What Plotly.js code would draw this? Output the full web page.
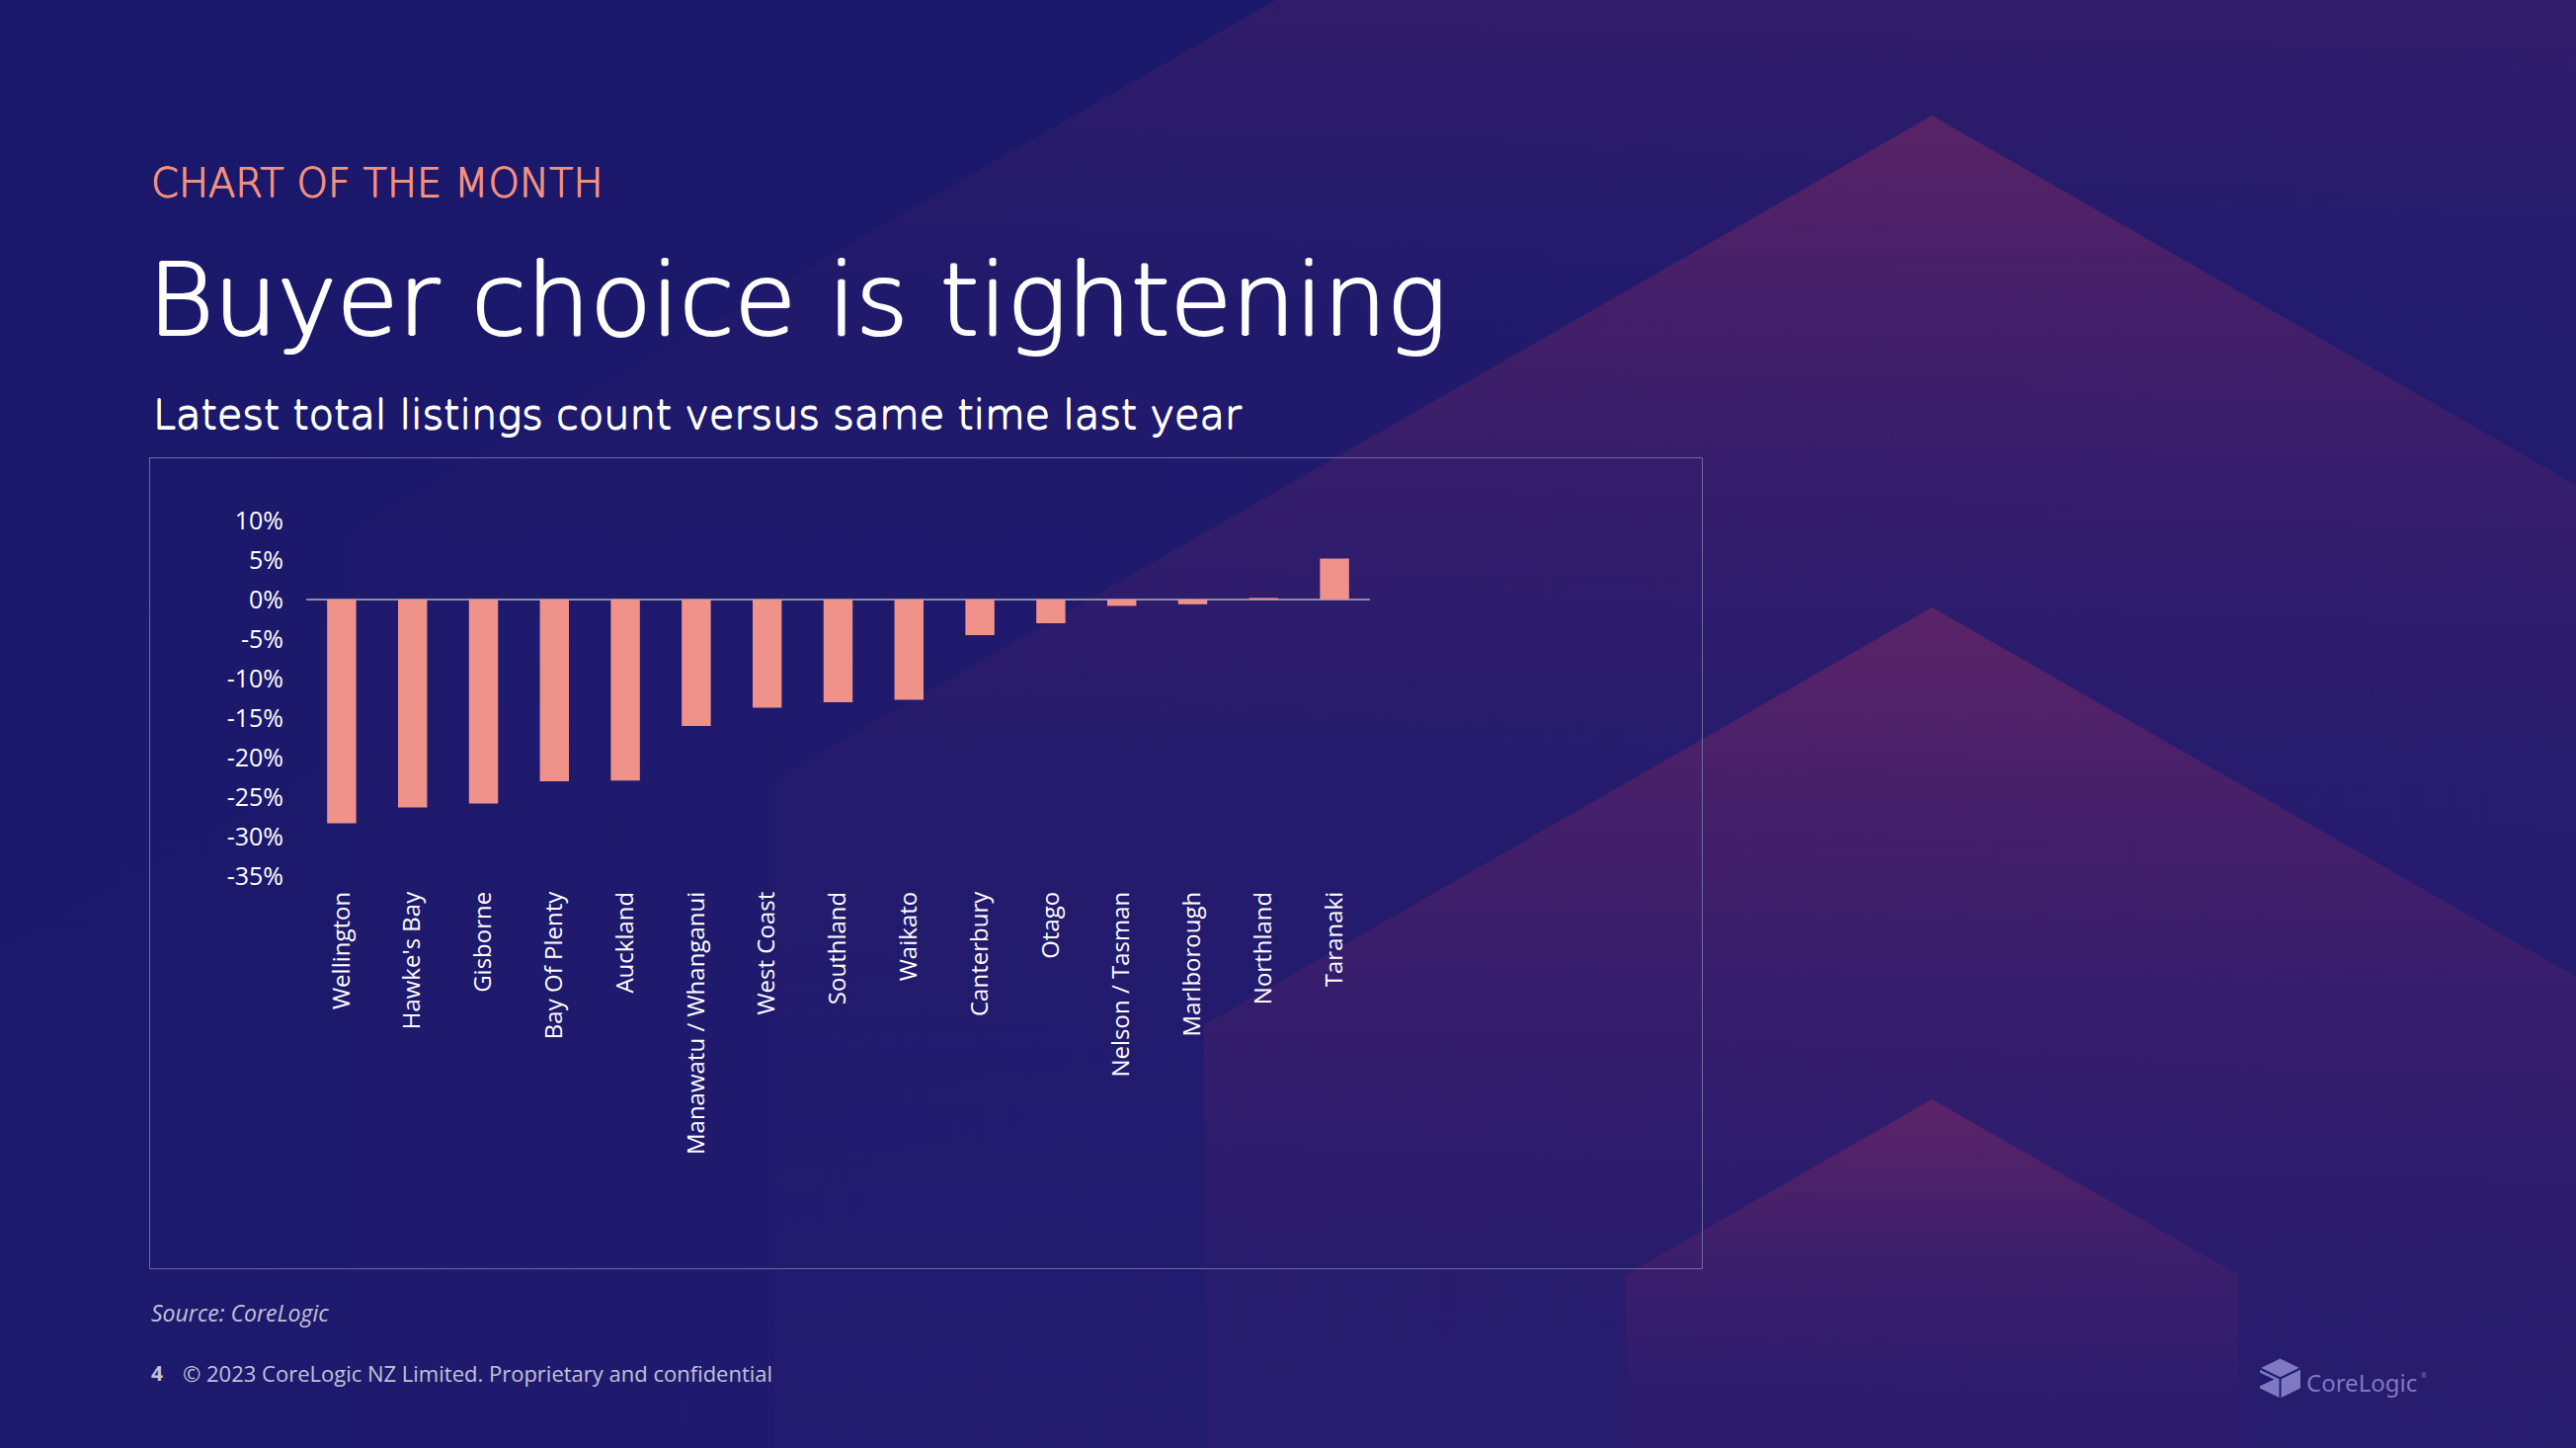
<!DOCTYPE html>
<html>
<head>
<meta charset="utf-8">
<script src="https://cdn.plot.ly/plotly-3.0.1.min.js"></script>
<style>
  html, body { margin: 0; padding: 0; width: 2608px; height: 1466px; overflow: hidden; background: #1c196c; }
  #bg { position: absolute; left: 0; top: 0; }
  #chart { position: absolute; left: 0; top: 0; width: 2608px; height: 1466px; }
</style>
</head>
<body>
<svg id="bg" width="2608" height="1466" xmlns="http://www.w3.org/2000/svg"></svg>
<div id="chart"></div>
<script>
// ---------------- data ----------------
const regions = ['Wellington', "Hawke's Bay", 'Gisborne', 'Bay Of Plenty', 'Auckland',
  'Manawatu / Whanganui', 'West Coast', 'Southland', 'Waikato', 'Canterbury', 'Otago',
  'Nelson / Tasman', 'Marlborough', 'Northland', 'Taranaki'];
const listingsChangePct = [-28.3, -26.3, -25.8, -23.0, -22.9, -16.0, -13.7, -13.0, -12.7,
  -4.5, -3.0, -0.8, -0.6, 0.2, 5.2];
const yTickVals = [10, 5, 0, -5, -10, -15, -20, -25, -30, -35];
const yTickText = ['10%', '5%', '0%', '-5%', '-10%', '-15%', '-20%', '-25%', '-30%', '-35%'];

const kicker = 'CHART OF THE MONTH';
const headline = 'Buyer choice is tightening';
const subhead = 'Latest total listings count versus same time last year';
const sourceNote = 'Source: CoreLogic';
const pageNo = '4';
const copyright = '\u00A9 2023 CoreLogic NZ Limited. Proprietary and confidential';
const brand = 'CoreLogic';

// ---------------- background decoration (svg) ----------------
const W = 2608, H = 1466;
(function drawBackground() {
  const svg = document.getElementById('bg');
  let defs = `<linearGradient id="base" x1="0" y1="0" x2="1" y2="1">
      <stop offset="0" stop-color="#1a186a"/>
      <stop offset="0.6" stop-color="#1e1a6e"/>
      <stop offset="1" stop-color="#211b6f"/>
    </linearGradient>`;
  let body = `<rect x="0" y="0" width="${W}" height="${H}" fill="url(#base)"/>`;
  const cx = 1956, slope = 0.5736;
  const peaks = [-381, 117, 615, 1113];
  const halfW = [1602, 1172, 737, 310];
  const fadeLen = [950, 950, 950, 420];
  peaks.forEach((p, k) => {
    const hw = halfW[k];
    defs += `<linearGradient id="h${k}" gradientUnits="userSpaceOnUse" x1="0" y1="${p}" x2="0" y2="${p + fadeLen[k]}">
        <stop offset="0" stop-color="#8c2a62" stop-opacity="0.48"/>
        <stop offset="0.2" stop-color="#8c2a62" stop-opacity="0.32"/>
        <stop offset="0.4" stop-color="#8c2a62" stop-opacity="0.18"/>
        <stop offset="0.7" stop-color="#8c2a62" stop-opacity="0.05"/>
        <stop offset="1" stop-color="#8c2a62" stop-opacity="0.02"/>
      </linearGradient>`;
    const yc = p + hw * slope;
    body += `<polygon points="${cx - hw},${yc} ${cx},${p} ${cx + hw},${yc} ${cx + hw},${H + 10} ${cx - hw},${H + 10}" fill="url(#h${k})"/>`;
  });
  // logo icon
  const lx = 2308.5, ly = 1395.5;
  body += `<g fill="#7e79c2">
      <polygon points="${lx},${ly - 20} ${lx + 20.5},${ly - 10} ${lx + 20.5},${ly + 10} ${lx},${ly + 20} ${lx - 20.5},${ly + 10} ${lx - 20.5},${ly - 10}"/>
    </g>
    <g stroke="#201b6e" stroke-width="2" fill="none">
      <line x1="${lx - 20.5}" y1="${ly - 10}" x2="${lx}" y2="${ly}"/>
      <line x1="${lx}" y1="${ly}" x2="${lx + 20.5}" y2="${ly - 10}"/>
      <line x1="${lx}" y1="${ly}" x2="${lx}" y2="${ly + 20}"/>
    </g>
    <polygon points="${lx - 21},${ly - 6} ${lx - 6},${ly + 1} ${lx - 21},${ly + 8}" fill="#201b6e"/>`;
  svg.innerHTML = `<defs>${defs}</defs>${body}`;
})();

// ---------------- plotly ----------------
const px = x => x / W;
const py = y => 1 - y / H;

const titleFont = '"DejaVu Sans", Inter, sans-serif';
const bodyFont = '"Open Sans", "Noto Sans", sans-serif';
const tickFont = '"Liberation Sans Narrow", "Open Sans", sans-serif';

// thicken the light glyphs slightly with a tight text-shadow ring
const ring = (d, c) => `${d}px 0 0 ${c}, -${d}px 0 0 ${c}, 0 ${d}px 0 ${c}, 0 -${d}px 0 ${c}`;

const trace = {
  type: 'bar',
  x: regions,
  y: listingsChangePct,
  marker: { color: '#ee928a', line: { width: 0 } },
  hoverinfo: 'skip'
};

const annotations = [
  { text: kicker, x: px(151), y: py(185), xanchor: 'left', yanchor: 'middle',
    font: { family: titleFont, size: 40, color: '#f0907f', weight: 300, shadow: ring(0.5, '#f0907f') } },
  { text: headline, x: px(148), y: py(304), xanchor: 'left', yanchor: 'middle',
    font: { family: titleFont, size: 101.5, color: '#ffffff', weight: 300, shadow: ring(1.2, '#ffffff') } },
  { text: subhead, x: px(153), y: py(419), xanchor: 'left', yanchor: 'middle',
    font: { family: titleFont, size: 41.5, color: '#ffffff', weight: 300, shadow: ring(0.6, '#ffffff') } },
  { text: '<i>' + sourceNote + '</i>', x: px(151), y: py(1329), xanchor: 'left', yanchor: 'middle',
    font: { family: bodyFont, size: 23, color: '#c3c1d8' } },
  { text: '<b>' + pageNo + '</b>', x: px(151), y: py(1390), xanchor: 'left', yanchor: 'middle',
    font: { family: bodyFont, size: 21, color: '#c3c1d8' } },
  { text: copyright, x: px(183), y: py(1390), xanchor: 'left', yanchor: 'middle',
    font: { family: bodyFont, size: 22, color: '#c3c1d8' } },
  { text: brand, x: px(2333), y: py(1399), xanchor: 'left', yanchor: 'middle',
    font: { family: '"Noto Sans", "Open Sans", sans-serif', size: 24, color: '#7e79c2' } },
  { text: '\u00AE', x: px(2449), y: py(1392), xanchor: 'left', yanchor: 'middle',
    font: { family: '"Noto Sans", "Open Sans", sans-serif', size: 7, color: '#7e79c2' } }
].map(a => Object.assign({ xref: 'paper', yref: 'paper', showarrow: false }, a));

const layout = {
  width: W, height: H,
  margin: { l: 0, r: 0, t: 0, b: 0, pad: 0 },
  paper_bgcolor: 'rgba(0,0,0,0)',
  plot_bgcolor: 'rgba(0,0,0,0)',
  showlegend: false,
  bargap: 0.59,
  xaxis: {
    domain: [px(310), px(1387)],
    type: 'category',
    tickangle: -90,
    tickfont: { family: bodyFont, size: 24, color: '#ffffff' },
    showgrid: false, showline: false, zeroline: false, ticks: '',
    ticklabelstandoff: 10,
    fixedrange: true
  },
  yaxis: {
    domain: [py(887), py(527)],
    range: [-35, 10],
    tickmode: 'array',
    tickvals: yTickVals,
    ticktext: yTickText,
    tickfont: { family: tickFont, size: 25, color: '#ffffff' },
    showgrid: false, showline: false, ticks: '',
    zeroline: true, zerolinecolor: '#8e8c9e', zerolinewidth: 2.5,
    ticklabelstandoff: 22,
    fixedrange: true
  },
  shapes: [
    { type: 'rect', xref: 'paper', yref: 'paper', x0: px(151.5), x1: px(1723.5), y0: py(1284.5), y1: py(463.5),
      line: { color: '#6f6a9e', width: 1 }, fillcolor: 'rgba(0,0,0,0)' }
  ],
  annotations: annotations
};

Plotly.newPlot('chart', [trace], layout, { staticPlot: true, displayModeBar: false });
</script>
</body>
</html>
